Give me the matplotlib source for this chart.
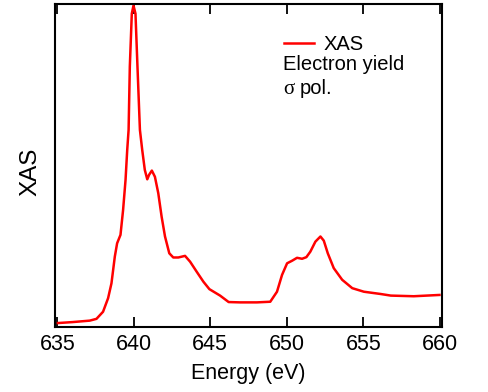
import numpy as np
import matplotlib.pyplot as plt

plt.rcParams['font.family'] = ['Liberation Sans', 'DejaVu Sans']

# XAS spectrum (energy in eV, intensity in arb. units)
energy = [635.04, 636.0, 637.12, 637.56, 637.99, 638.32, 638.54, 638.76, 638.91, 639.13,
          639.3, 639.46, 639.57, 639.66, 639.74, 639.87, 639.98, 640.11, 640.24, 640.4,
          640.55, 640.72, 640.88, 641.0, 641.18, 641.38, 641.6, 641.82, 642.04, 642.32,
          642.58, 642.91, 643.35, 643.68, 644.11, 644.55, 644.94, 645.64, 646.2, 646.95,
          648.05, 648.92, 649.36, 649.69, 650.02, 650.35, 650.67, 651.0, 651.28, 651.54,
          651.87, 652.2, 652.42, 652.68, 653.07, 653.62, 654.28, 655.04, 656.13, 656.8,
          658.3, 659.98]
xas = [0.012, 0.015, 0.0195, 0.025, 0.047, 0.089, 0.135, 0.218, 0.259, 0.285,
       0.362, 0.455, 0.548, 0.61, 0.806, 0.97, 0.995, 0.97, 0.806, 0.61,
       0.548, 0.486, 0.457, 0.471, 0.484, 0.465, 0.414, 0.341, 0.28, 0.228,
       0.215, 0.215, 0.22, 0.202, 0.171, 0.14, 0.117, 0.097, 0.077, 0.076,
       0.076, 0.078, 0.109, 0.161, 0.197, 0.205, 0.214, 0.211, 0.216, 0.233,
       0.264, 0.28, 0.267, 0.228, 0.182, 0.146, 0.12, 0.109, 0.102, 0.097,
       0.095, 0.099]

xticks = [635, 640, 645, 650, 655, 660]

fig = plt.figure(figsize=(4.89, 3.92), dpi=100)
ax = fig.add_axes([0.1125, 0.166, 0.7915, 0.824])

ax.plot(energy, xas, color='#ff0000', lw=1.8, label='XAS')

ax.set_xlim(634.85, 660.15)
ax.set_ylim(0, 1)
ax.set_xticks(xticks)
ax.set_yticks([])
ax.tick_params(axis='x', direction='in', top=True, length=7, width=1.3,
               labelsize=15.5, pad=5)
for s in ax.spines.values():
    s.set_linewidth(1.5)

ax.set_xlabel('Energy (eV)', fontsize=15.5, labelpad=6)
ax.set_ylabel('XAS', fontsize=17.5)
ax.yaxis.set_label_coords(-0.035, 0.48)

leg = ax.legend(loc='center left', bbox_to_anchor=(0.592, 0.873), frameon=False,
                fontsize=14.5, handlelength=1.5, handletextpad=0.45,
                borderpad=0, borderaxespad=0)
ax.text(0.589, 0.811, 'Electron yield', transform=ax.transAxes, fontsize=14.5,
        va='center', ha='left')
# sigma in a serif face like the original, then the rest in sans
ax.text(0.589, 0.721, '\u03c3', transform=ax.transAxes, fontsize=15,
        family=['Liberation Serif', 'DejaVu Serif'], va='baseline', ha='left')
ax.text(0.633, 0.721, 'pol.', transform=ax.transAxes, fontsize=14.5,
        va='baseline', ha='left')

plt.savefig('out.png', dpi=100)
